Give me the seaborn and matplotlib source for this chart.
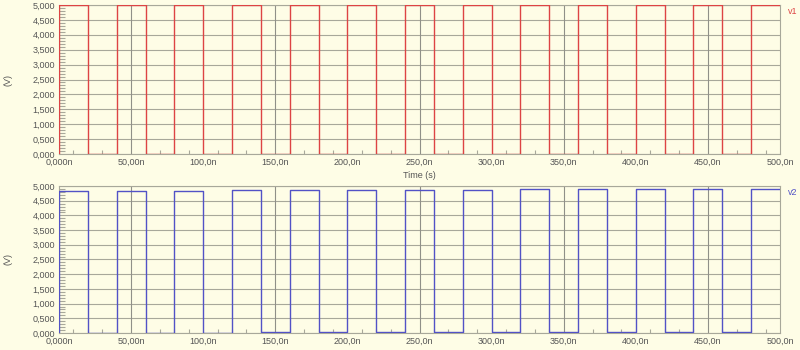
import numpy as np
import pandas as pd
import matplotlib
matplotlib.use("Agg")
import matplotlib.pyplot as plt
from matplotlib.ticker import FuncFormatter, MultipleLocator
import seaborn as sns

# ---- data (times in ns, voltages in V) ----
edges_ns = [0, 20, 40, 60, 80, 100, 120, 140, 160, 180, 200, 220, 240,
            260, 280, 300, 320, 340, 360, 380, 400, 420, 440, 460, 480, 500]
v1_levels = [5.0, 0.0, 5.0, 0.0, 5.0, 0.0, 5.0, 0.0, 5.0, 0.0, 5.0, 0.0, 5.0,
             0.0, 5.0, 0.0, 5.0, 0.0, 5.0, 0.0, 5.0, 0.0, 5.0, 0.0, 5.0]
v2_levels = [4.84, 0.00, 4.84, 0.00, 4.84, 0.00, 4.85, 0.02, 4.87, 0.02, 4.87, 0.03, 4.88,
             0.03, 4.88, 0.04, 4.89, 0.04, 4.89, 0.04, 4.90, 0.04, 4.90, 0.04, 4.90]
cursor_ns = [50, 150, 250, 350, 450]
x_major = [0, 50, 100, 150, 200, 250, 300, 350, 400, 450, 500]
y_major = [0.0, 0.5, 1.0, 1.5, 2.0, 2.5, 3.0, 3.5, 4.0, 4.5, 5.0]
series_names = ["v1", "v2"]


def step_frame(levels):
    xs, ys = [edges_ns[0]], [0.0]
    for i, lv in enumerate(levels):
        xs += [edges_ns[i], edges_ns[i + 1]]
        ys += [lv, lv]
    return pd.DataFrame({"t": xs, "v": ys})


BG = "#FEFDE6"
GRID = "#A8A89A"
TXT = "#555555"
sns.set_theme(style="white")
plt.rcParams["font.family"] = ["Liberation Sans", "DejaVu Sans"]

fig = plt.figure(figsize=(8, 3.5), dpi=100, facecolor=BG)
ax1 = fig.add_axes([0.07375, 0.56, 0.90125, 0.4257], facecolor=BG)
ax2 = fig.add_axes([0.07375, 0.0486, 0.90125, 0.42], facecolor=BG)


def xfmt(v, pos):
    if v == 0:
        return "0,000n"
    d = max(0, 3 - int(np.floor(np.log10(abs(v)))))
    return f"{v:.{d}f}n".replace(".", ",")


def yfmt(v, pos):
    return f"{v:.3f}".replace(".", ",")


for ax, levels, name, col in [(ax1, v1_levels, series_names[0], "#DD4444"),
                              (ax2, v2_levels, series_names[1], "#5252C6")]:
    df = step_frame(levels)
    ax.set_xlim(0, 500)
    ax.set_ylim(0, 5)
    for yv in y_major:
        ax.axhline(yv, color=GRID, lw=0.8, zorder=1)
    for xv in cursor_ns:
        ax.axvline(xv, color="#909088", lw=0.8, zorder=1)
    sns.lineplot(data=df, x="t", y="v", ax=ax, color=col, lw=1.0,
                 sort=False, estimator=None, zorder=3)
    ax.set_xticks(x_major)
    ax.set_yticks(y_major)
    ax.xaxis.set_minor_locator(MultipleLocator(10))
    ax.yaxis.set_minor_locator(MultipleLocator(0.1))
    ax.xaxis.set_major_formatter(FuncFormatter(xfmt))
    ax.yaxis.set_major_formatter(FuncFormatter(yfmt))
    ax.tick_params(axis="both", which="major", length=0, labelsize=6.5,
                   labelcolor=TXT, pad=3)
    ax.tick_params(axis="x", which="minor", direction="in", length=3,
                   color=GRID, width=0.8, bottom=True)
    ax.tick_params(axis="y", which="minor", direction="in", length=4,
                   color=GRID, width=0.8, left=True)
    for s in ax.spines.values():
        s.set_color(GRID)
        s.set_linewidth(0.8)
    ax.set_xlabel("Time (s)", fontsize=6.5, color=TXT)
    ax.set_ylabel("(V)", fontsize=6.5, color=TXT)
    ax.yaxis.set_label_coords(-0.064, 0.5)
    ax.text(1.018, 0.985, name, transform=ax.transAxes, color=col,
            fontsize=6.5, va="top", ha="center")

ax1.xaxis.set_label_coords(0.5, -0.115)
ax2.xaxis.set_label_coords(0.5, -0.115)

fig.savefig("out.png", dpi=100, facecolor=BG)
